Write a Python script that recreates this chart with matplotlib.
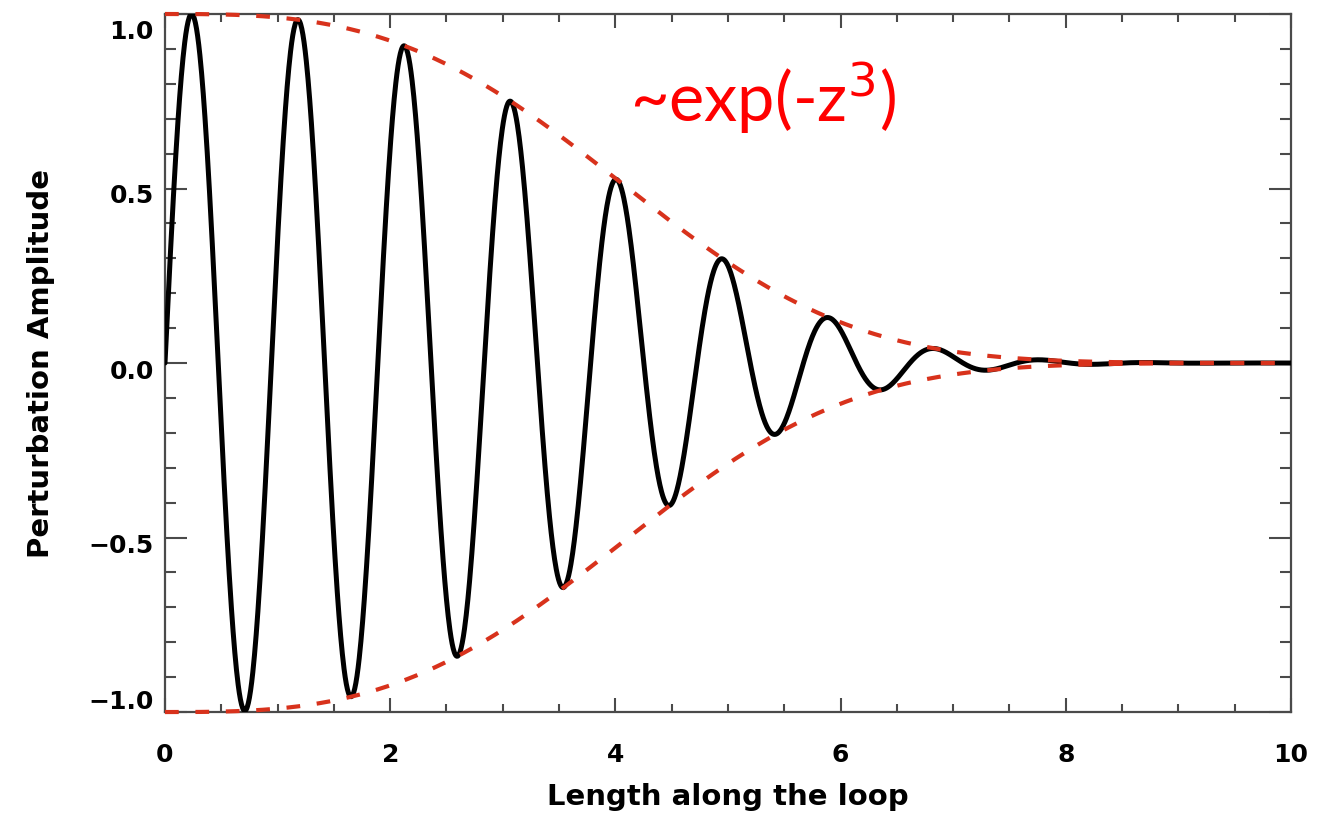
import numpy as np
import matplotlib
matplotlib.use("Agg")
import matplotlib.pyplot as plt
from matplotlib.ticker import MultipleLocator
from matplotlib.transforms import ScaledTranslation

# Wave parameters: oscillation wavelength and the e-folding length of the
# exp(-(z/L)^3) envelope along the loop.
wavelength = 0.945
decay_length = 4.65
x_range = [0.0, 10.0]
y_range = [-1.0, 1.0]
x_ticks = [0, 2, 4, 6, 8, 10]
y_ticks = [-1.0, -0.5, 0.0, 0.5, 1.0]
y_tick_labels = ["\u22121.0", "\u22120.5", "0.0", "0.5", "1.0"]

z = np.linspace(x_range[0], x_range[1], 2001)
envelope = np.exp(-(z / decay_length) ** 3)
wave = np.sin(2 * np.pi * z / wavelength) * envelope

frame_color = "#4a4a4a"
red = "#d8321c"

fig = plt.figure(figsize=(13.36, 8.19), dpi=100)
ax = fig.add_axes([0.1235, 0.1306, 0.8428, 0.8523])

ax.plot(z, wave, color="black", lw=3.6, solid_capstyle="round", zorder=3)
ax.plot(z, envelope, color=red, lw=3.0, ls=(0, (3.3, 4.0)), clip_on=False, zorder=4)
ax.plot(z, -envelope, color=red, lw=3.0, ls=(0, (3.3, 4.0)), clip_on=False, zorder=4)

ax.set_xlim(*x_range)
ax.set_ylim(*y_range)

ax.set_xticks(x_ticks)
ax.set_xticklabels([str(t) for t in x_ticks])
ax.set_yticks(y_ticks)
ax.set_yticklabels(y_tick_labels)
ax.xaxis.set_minor_locator(MultipleLocator(0.5))
ax.yaxis.set_minor_locator(MultipleLocator(0.1))

for side in ["left", "right", "top", "bottom"]:
    ax.spines[side].set_color(frame_color)
    ax.spines[side].set_linewidth(1.6)

ax.tick_params(axis="x", which="major", direction="in", length=10, width=1.5,
               color=frame_color, top=True, bottom=True, labelsize=18, pad=22)
ax.tick_params(axis="x", which="minor", direction="in", length=6, width=1.5,
               color=frame_color, top=True, bottom=True)
ax.tick_params(axis="y", which="major", direction="in", length=16, width=1.5,
               color=frame_color, left=True, right=True, labelsize=18, pad=8)
ax.tick_params(axis="y", which="minor", direction="in", length=8, width=1.5,
               color=frame_color, left=True, right=True)

for lab in ax.get_xticklabels() + ax.get_yticklabels():
    lab.set_fontweight("bold")

# Vertical label placement: end labels kept within the frame, others nudged down
ylabels = ax.get_yticklabels()
ylabels[0].set_verticalalignment("bottom")
ylabels[-1].set_verticalalignment("top")
shifts = [2, 6, 6, 5, 6]
for lab, dy in zip(ylabels, shifts):
    lab.set_transform(lab.get_transform() + ScaledTranslation(0, -dy / 100, fig.dpi_scale_trans))

ax.set_xlabel("Length along the loop", fontsize=21, fontweight="bold", labelpad=12)
ax.set_ylabel("Perturbation Amplitude", fontsize=21, fontweight="bold", labelpad=24)

ax.text(0.413, 0.845, r"~exp(-z$^3$)", transform=ax.transAxes, color="#ff0000",
        fontsize=48, family="Lato", ha="left", va="baseline")

fig.savefig("out.png", dpi=100)
